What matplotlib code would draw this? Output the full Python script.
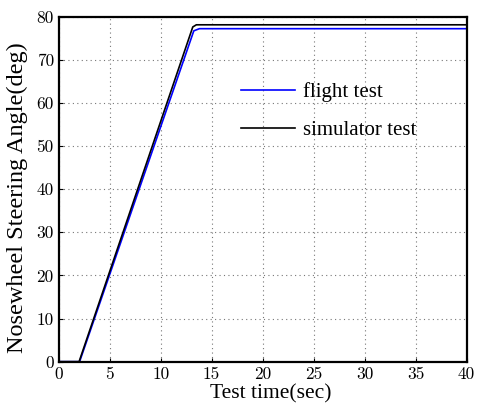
import matplotlib.pyplot as plt

# time (sec) / angle (deg) breakpoints
flight_t = [0, 2.05, 13.25, 13.8, 40]
flight_a = [0, 0, 76.7, 77.2, 77.2]
sim_t = [0, 2.0, 13.15, 13.5, 40]
sim_a = [0, 0, 77.6, 78.1, 78.1]

xticks = [0, 5, 10, 15, 20, 25, 30, 35, 40]
yticks = [0, 10, 20, 30, 40, 50, 60, 70, 80]

fig = plt.figure(figsize=(4.81, 4.05), dpi=100)
ax = fig.add_axes([0.122, 0.107, 0.848, 0.852])

ax.plot(flight_t, flight_a, color="blue", lw=1.2, label="flight test")
ax.plot(sim_t, sim_a, color="black", lw=1.2, label="simulator test")

ax.set_xlim(0, 40)
ax.set_ylim(0, 80)
ax.set_xticks(xticks)
ax.set_yticks(yticks)
ax.grid(True, linestyle=(0, (1, 3)), color="#777777", lw=0.8)
ax.tick_params(direction="in", length=3, labelsize=12.5)
for lab in ax.get_xticklabels() + ax.get_yticklabels():
    lab.set_family("cmr10")
for s in ax.spines.values():
    s.set_linewidth(1.6)

ax.set_xlabel("Test time(sec)", family="Liberation Serif", fontsize=15.5, labelpad=2)
ax.xaxis.set_label_coords(0.52, -0.065)
ax.set_ylabel("Nosewheel Steering Angle(deg)", family="Liberation Serif",
              fontsize=17.5)
ax.yaxis.set_label_coords(-0.075, 0.475)

ax.legend(loc="upper left", bbox_to_anchor=(0.4, 0.865), frameon=False,
          prop={"family": "Liberation Serif", "size": 15}, handlelength=2.6,
          labelspacing=0.9, handletextpad=0.4)

fig.savefig("out.png")
plt.close(fig)
